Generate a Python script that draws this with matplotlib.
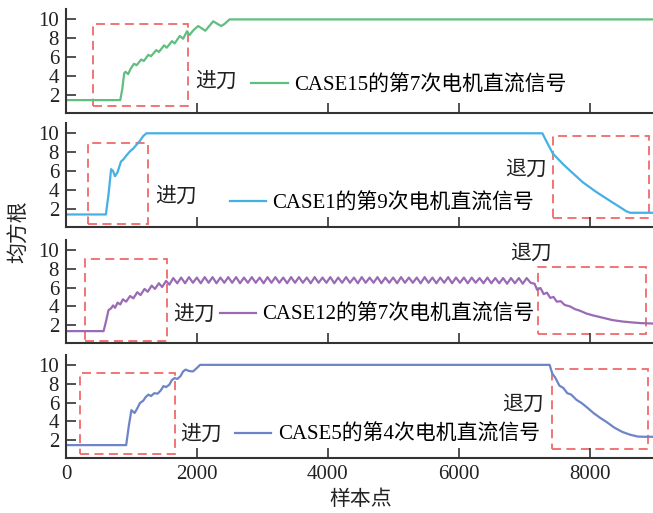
import matplotlib.pyplot as plt
from matplotlib.patches import Rectangle

plt.rcParams['font.family'] = ['Liberation Serif', 'Noto Sans CJK SC']
plt.rcParams['font.size'] = 15
plt.rcParams['axes.unicode_minus'] = False

# --- CASE15, 7th run (green) ---
c15_x = [0, 830, 860, 890, 910, 950, 990, 1040, 1080, 1150, 1190, 1260, 1300,
         1380, 1420, 1500, 1540, 1620, 1660, 1740, 1790, 1850, 1890, 1940, 2020,
         2130, 2250, 2370, 2420, 2500, 9000]
c15_y = [1.45, 1.45, 2.6, 4.3, 4.45, 4.2, 4.8, 5.3, 5.15, 5.75, 5.6, 6.25, 6.1,
         6.75, 6.55, 7.25, 7.0, 7.7, 7.45, 8.25, 7.95, 8.75, 8.35, 8.8, 9.3,
         8.8, 9.8, 9.3, 9.5, 10.0, 10.0]

# --- CASE1, 9th run (sky blue) ---
c1_x = [0, 610, 650, 690, 720, 750, 790, 840, 880, 930, 980, 1030, 1080, 1130,
        1180, 1230, 7280, 7330, 7440, 7600, 7750, 7900, 8100, 8300, 8460, 8560,
        8620, 9000]
c1_y = [1.4, 1.4, 3.5, 6.2, 6.0, 5.45, 5.9, 7.0, 7.25, 7.7, 8.1, 8.4, 8.8, 9.2,
        9.7, 10.0, 10.0, 9.3, 7.85, 6.7, 5.74, 4.8, 3.8, 2.9, 2.2, 1.75,
        1.58, 1.58]

# --- CASE12, 7th run (purple, strong ripple) ---
c12_x = [0, 575, 615, 650, 690, 720, 750, 790, 830, 870, 920, 980, 1030, 1090,
         1140, 1200, 1250, 1310, 1360, 1420, 1470, 1530, 1580, 1640, 1700,
         1760, 1820, 1880, 1940, 2000, 2060, 2120, 2180, 2240, 2300, 2360, 2420,
         2480, 2540, 2600, 2660, 2720, 2780, 2840, 2900, 2960, 3020, 3080, 3140,
         3200, 3260, 3320, 3380, 3440, 3500, 3560, 3620, 3680, 3740, 3800, 3860,
         3920, 3980, 4040, 4100, 4160, 4220, 4280, 4340, 4400, 4460, 4520, 4580,
         4640, 4700, 4760, 4820, 4880, 4940, 5000, 5060, 5120, 5180, 5240, 5300,
         5360, 5420, 5480, 5540, 5600, 5660, 5720, 5780, 5840, 5900, 5960, 6020,
         6080, 6140, 6200, 6260, 6320, 6380, 6440, 6500, 6560, 6620, 6680, 6740,
         6800, 6860, 6920, 6980, 7040, 7100, 7160, 7200, 7250, 7300, 7350, 7400,
         7450, 7500, 7560, 7620, 7700, 7780, 7850, 7950, 8050, 8200, 8350, 8500,
         8650, 8800, 9000]
c12_y = [1.38, 1.38, 2.5, 3.6, 3.8, 4.1, 3.85, 4.4, 4.2, 4.75, 4.5, 5.1, 4.85,
         5.5, 5.2, 5.85, 5.55, 6.2, 5.85, 6.45, 6.05, 6.7, 6.3, 7.0, 6.45,
         7.05, 6.45, 7.1, 6.5, 7.05, 6.45, 7.1, 6.5, 7.1, 6.45, 7.05, 6.5,
         7.1, 6.5, 7.1, 6.45, 7.05, 6.5, 7.1, 6.5, 7.05, 6.45, 7.1, 6.5,
         7.1, 6.5, 7.05, 6.45, 7.1, 6.5, 7.1, 6.5, 7.05, 6.45, 7.1, 6.5,
         7.05, 6.5, 7.1, 6.45, 7.05, 6.5, 7.1, 6.5, 7.05, 6.45, 7.1, 6.5,
         7.05, 6.5, 7.1, 6.45, 7.05, 6.5, 7.05, 6.45, 7.1, 6.5, 7.05, 6.5,
         7.05, 6.45, 7.1, 6.5, 7.05, 6.45, 7.05, 6.5, 7.1, 6.45, 7.05, 6.5,
         7.05, 6.45, 7.05, 6.5, 7.0, 6.45, 7.05, 6.45, 7.0, 6.45, 7.0, 6.4,
         7.0, 6.45, 7.0, 6.4, 7.0, 6.5, 6.4, 5.75, 5.95, 5.3, 5.45, 4.9,
         5.0, 4.5, 4.55, 4.15, 4.0, 3.7, 3.55, 3.25, 3.05, 2.8, 2.55, 2.4,
         2.3, 2.22, 2.18]

# --- CASE5, 4th run (slate blue) ---
c5_x = [0, 920, 960, 1000, 1050, 1090, 1130, 1180, 1220, 1260, 1300, 1350, 1400,
        1450, 1490, 1530, 1580, 1620, 1660, 1700, 1750, 1790, 1830, 1880, 1940,
        1990, 2050, 7390, 7430, 7480, 7540, 7600, 7660, 7720, 7800, 7880, 7960,
        8060, 8160, 8260, 8380, 8500, 8620, 8740, 8850, 9000]
c5_y = [1.5, 1.5, 3.5, 5.2, 4.9, 5.4, 5.95, 6.2, 6.6, 6.85, 6.7, 7.0, 6.95,
        7.3, 7.75, 7.65, 7.9, 8.4, 8.6, 8.5, 8.8, 9.3, 9.5, 9.35, 9.3,
        9.6, 10.0, 10.0, 9.1, 8.6, 7.8, 7.55, 7.0, 6.85, 6.3, 5.95, 5.5,
        4.9, 4.4, 3.95, 3.35, 2.9, 2.6, 2.4, 2.38, 2.38]

series_x = [c15_x, c1_x, c12_x, c5_x]
series_y = [c15_y, c1_y, c12_y, c5_y]
labels = ['CASE15的第7次电机直流信号', 'CASE1的第9次电机直流信号',
          'CASE12的第7次电机直流信号', 'CASE5的第4次电机直流信号']
colors = ['#5fbf7f', '#45b0e5', '#9a6bb5', '#6e84c9']

# feed-in / retract windows: (x0, x1, y0, y1)
feed_boxes = [(417, 1867, 0.84, 9.47), (340, 1257, 0.35, 8.97),
              (290, 1537, 0.33, 9.04), (214, 1664, 0.51, 9.12)]
retract_boxes = [None, (7441, 8916, 1.05, 9.68), (7211, 8866, 1.04, 8.22),
                 (7425, 8891, 1.04, 9.57)]
feed_text = [(1971, 3.38), (1360, 3.27), (1635, 3.07), (1742, 2.56)]
retract_text = [None, (6708, 6.09), (6785, 9.47), (6673, 5.75)]
legend_pos = [(0.315, 0.267), (0.278, 0.227), (0.261, 0.274), (0.287, 0.226)]

x_ticks = [0, 2000, 4000, 6000, 8000]
y_ticks = [2, 4, 6, 8, 10]

fig = plt.figure(figsize=(6.53, 5.13), dpi=100)
bottoms = [0.780, 0.558, 0.331, 0.1066]
axes = []
for i in range(4):
    ax = fig.add_axes([0.101, bottoms[i], 0.902, 0.2015])
    axes.append(ax)
    ax.plot(series_x[i], series_y[i], color=colors[i], lw=1.6, label=labels[i])

    x0, x1, y0, y1 = feed_boxes[i]
    ax.add_patch(Rectangle((x0, y0), x1 - x0, y1 - y0, fill=False,
                           ec='#f06a6a', lw=1.3, ls=(0, (5, 3))))
    ax.text(feed_text[i][0], feed_text[i][1], '进刀', ha='left', va='center',
            color='#222222')
    if retract_boxes[i] is not None:
        x0, x1, y0, y1 = retract_boxes[i]
        ax.add_patch(Rectangle((x0, y0), x1 - x0, y1 - y0, fill=False,
                               ec='#f06a6a', lw=1.3, ls=(0, (5, 3))))
        ax.text(retract_text[i][0], retract_text[i][1], '退刀', ha='left',
                va='center', color='#222222')

    ax.legend(loc='center left', bbox_to_anchor=legend_pos[i], frameon=False,
              borderpad=0, borderaxespad=0, handlelength=1.75,
              handletextpad=0.3)

    ax.set_xlim(0, 9000)
    ax.set_ylim(0.1, 11.05)
    ax.set_xticks(x_ticks)
    ax.set_yticks(y_ticks)
    for s in ['top', 'right']:
        ax.spines[s].set_visible(False)
    for s in ['left', 'bottom']:
        ax.spines[s].set_color('#333333')
        ax.spines[s].set_linewidth(1.5)
    ax.tick_params(direction='in', length=7, width=1.2, color='#333333',
                   labelcolor='#222222', pad=5)
    if i < 3:
        ax.tick_params(axis='x', labelbottom=False)

fig.text(0.03, 1 - 232 / 513, '均方根', rotation=90, ha='center', va='center',
         color='#222222')
fig.text(0.5525, 0.025, '样本点', ha='center', va='center', color='#222222')

plt.savefig('out.png', dpi=100)
